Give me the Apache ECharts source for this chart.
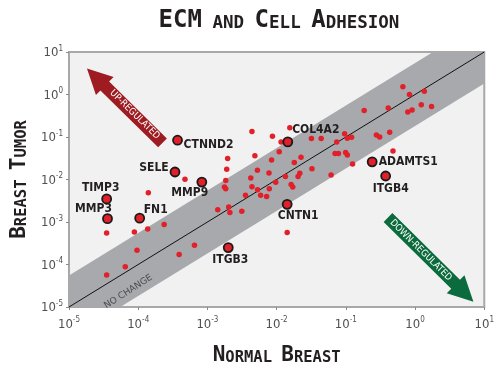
<!DOCTYPE html>
<html>
<head>
<meta charset="utf-8">
<script src="https://cdn.jsdelivr.net/npm/echarts@6/dist/echarts.min.js"></script>
<style>
  html, body { margin: 0; padding: 0; background: #fff; }
  #chart { width: 497px; height: 371px; }
</style>
</head>
<body>
<div id="chart"></div>
<script>
// named genes (ringed points)
const genes = ['CTNND2', 'SELE', 'MMP9', 'TIMP3', 'MMP3', 'FN1', 'ITGB3', 'COL4A2', 'CNTN1', 'ADAMTS1', 'ITGB4'];
const geneNormal = [3.7e-4, 3.4e-4, 8.3e-4, 3.5e-5, 3.6e-5, 1.05e-4, 2.0e-3, 0.0145, 0.0142, 0.24, 0.376];
const geneTumor = [0.084, 0.015, 0.0087, 0.0035, 0.0012, 0.00123, 2.5e-4, 0.077, 0.0026, 0.026, 0.0121];

// other genes (plain red dots)
const otherNormal = [
  4.4e-3, 0.0155, 8.7e-3, 0.0116, 0.0318, 0.044, 0.0738, 0.096, 0.105, 0.121,
  0.276, 0.308, 0.43, 0.184, 0.41, 0.667, 0.83, 1.36, 1.23, 1.73,
  0.906, 0.785, 1.96e-3, 4.85e-3, 0.0109, 8.45e-3, 0.0225, 0.018, 0.0698, 0.0782,
  0.0993, 0.105, 0.48, 0.125, 1.9e-3, 5.27e-3, 7.76e-3, 0.0134, 0.0216, 0.0204,
  0.0324, 0.0612, 1.84e-3, 4.23e-3, 9.7e-3, 1.76e-3, 1.84e-3, 4.4e-3, 5.3e-3, 0.0162,
  0.0171, 3.55e-3, 7.83e-3, 5.87e-3, 7.16e-3, 1.41e-3, 2.03e-3, 2.11e-3, 3.14e-3, 4.74e-4,
  1.4e-4, 3.5e-5, 8.8e-5, 1.37e-4, 2.37e-4, 9.6e-5, 6.5e-4, 3.9e-4, 6.5e-5, 3.5e-5,
  0.0142
];
const otherTumor = [
  0.135, 0.166, 0.104, 0.076, 0.092, 0.092, 0.076, 0.119, 0.093, 0.098,
  0.111, 0.1, 0.13, 0.42, 0.48, 1.52, 1.0, 1.19, 0.574, 0.525,
  0.433, 0.39, 0.0311, 0.0364, 0.0449, 0.0288, 0.0333, 0.0252, 0.0411, 0.0411,
  0.0433, 0.0378, 0.0466, 0.0233, 0.0175, 0.0164, 0.0142, 0.0118, 0.014, 0.0118,
  0.0178, 0.0128, 9.5e-3, 0.0108, 8.6e-3, 6.65e-3, 6.05e-3, 6.76e-3, 5.74e-3, 7.58e-3,
  6.7e-3, 4.27e-3, 6.05e-3, 4.27e-3, 3.98e-3, 1.95e-3, 2.25e-3, 1.68e-3, 1.8e-3, 0.0102,
  4.9e-3, 5.5e-4, 5.8e-4, 6.8e-4, 8.7e-4, 2.16e-4, 2.85e-4, 1.72e-4, 8.9e-5, 5.7e-5,
  5.7e-4
];

const axisMin = 1e-5;
const axisMax = 10;
const bandFold = 5.5;   // "no change" band, fold either side of the diagonal

// where each gene name sits relative to its point (px)
const labelOffsets = {
  CTNND2: [31, 5], SELE: [-21, -4], MMP9: [-12, 11], TIMP3: [-6, -11],
  MMP3: [-14, -10], FN1: [16, -8], ITGB3: [2, 12], COL4A2: [28, -12],
  CNTN1: [11, 12], ADAMTS1: [36, 0], ITGB4: [5, 13]
};

const RED = '#e2202a';
const capsFont = "'DejaVu Sans Mono', monospace";
const narrowFont = "'DejaVu Sans Condensed', 'Liberation Sans', sans-serif";

let myChart = echarts.init(document.getElementById('chart'), null, { renderer: 'canvas' });

function powLabel(v) {
  const e = Math.round(Math.log10(v));
  return '{n|10}{s|' + (e < 0 ? '-' + (-e) : e) + '}';
}
const tickRich = {
  n: { fontSize: 13, fontFamily: narrowFont, color: '#505050', verticalAlign: 'bottom', lineHeight: 15 },
  s: { fontSize: 8, fontFamily: narrowFont, color: '#505050', verticalAlign: 'top', lineHeight: 15 }
};
const nameRich = {
  a: { fontSize: 21, fontWeight: 'bold', fontFamily: capsFont, color: '#231f20', verticalAlign: 'bottom', lineHeight: 21 },
  b: { fontSize: 15.5, fontWeight: 'bold', fontFamily: capsFont, color: '#231f20', verticalAlign: 'bottom', lineHeight: 21 }
};

function arrowShape(len) {
  return [[0, -6.2], [len - 25, -6.2], [len - 25, -12.6], [len, 0], [len - 25, 12.6], [len - 25, 6.2], [0, 6.2]];
}

let option = {
  animation: false,
  grid: {
    left: 69, right: 8, top: 52, bottom: 54,
    show: true,
    backgroundColor: '#f1f1f1',
    borderColor: '#a8a8a8',
    borderWidth: 2
  },
  xAxis: {
    type: 'log', logBase: 10, min: axisMin, max: axisMax,
    name: '{a|N}{b|ORMAL }{a|B}{b|REAST}',
    nameLocation: 'middle', nameGap: 38,
    nameTextStyle: { rich: nameRich },
    axisLine: { show: false },
    axisTick: { show: true, length: 3, lineStyle: { color: '#8a8a8a' } },
    splitLine: { show: false },
    axisLabel: { formatter: powLabel, rich: tickRich, margin: 9 }
  },
  yAxis: {
    type: 'log', logBase: 10, min: axisMin, max: axisMax,
    name: '{a|B}{b|REAST }{a|T}{b|UMOR}',
    nameLocation: 'middle', nameGap: 32,
    nameTextStyle: { rich: nameRich },
    axisLine: { show: false },
    axisTick: { show: true, length: 3, lineStyle: { color: '#8a8a8a' } },
    splitLine: { show: false },
    axisLabel: { formatter: powLabel, rich: tickRich, margin: 6 }
  },
  graphic: [
    {
      type: 'text', x: 279, y: 20, z: 10,
      style: {
        text: '{a|ECM}{b| AND }{a|C}{b|ELL }{a|A}{b|DHESION}',
        rich: {
          a: { fontSize: 24, fontWeight: 'bold', fontFamily: capsFont, fill: '#231f20', verticalAlign: 'bottom', lineHeight: 25 },
          b: { fontSize: 17.5, fontWeight: 'bold', fontFamily: capsFont, fill: '#231f20', verticalAlign: 'bottom', lineHeight: 25 }
        },
        align: 'center', verticalAlign: 'middle', textAlign: 'center', textVerticalAlign: 'middle'
      }
    },
    // up-regulated arrow
    {
      type: 'polygon', x: 162.5, y: 142.8, rotation: 2.364, z: 10,
      shape: { points: arrowShape(106) },
      style: { fill: '#9e1b21' }
    },
    {
      type: 'text', x: 134.7, y: 114.6, rotation: -0.777, z: 11,
      style: {
        text: 'UP-REGULATED', fill: '#fff', fontSize: 9.5, fontFamily: narrowFont,
        align: 'center', verticalAlign: 'middle', textAlign: 'center', textVerticalAlign: 'middle'
      }
    },
    // down-regulated arrow
    {
      type: 'polygon', x: 388, y: 217.5, rotation: -0.779, z: 10,
      shape: { points: arrowShape(120) },
      style: { fill: '#0b6b3c' }
    },
    {
      type: 'text', x: 420.8, y: 250.3, rotation: -0.779, z: 11,
      style: {
        text: 'DOWN-REGULATED', fill: '#fff', fontSize: 9.5, fontFamily: narrowFont,
        align: 'center', verticalAlign: 'middle', textAlign: 'center', textVerticalAlign: 'middle'
      }
    },
    {
      type: 'text', x: 128.3, y: 291.7, rotation: 0.571, z: 11,
      style: {
        text: 'NO CHANGE', fill: '#4d4d4d', fontSize: 9, fontFamily: "'DejaVu Sans', sans-serif",
        align: 'center', verticalAlign: 'middle', textAlign: 'center', textVerticalAlign: 'middle'
      }
    }
  ],
  series: [
    {
      // gray "no change" band around the diagonal
      type: 'custom',
      z: 1,
      clip: true,
      data: [[axisMin, axisMin]],
      renderItem: function (params, api) {
        const pts = [
          [axisMin, axisMin], [axisMin, axisMin * bandFold], [axisMax / bandFold, axisMax],
          [axisMax, axisMax], [axisMax, axisMax / bandFold], [axisMin * bandFold, axisMin]
        ].map((p) => api.coord(p));
        return { type: 'polygon', shape: { points: pts }, style: { fill: '#a7a9ac' } };
      }
    },
    {
      type: 'line',
      z: 2,
      symbol: 'none',
      silent: true,
      data: [[axisMin, axisMin], [axisMax, axisMax]],
      lineStyle: { color: '#111', width: 1 }
    },
    {
      type: 'scatter',
      z: 3,
      symbolSize: 5.5,
      itemStyle: { color: RED, opacity: 1 },
      data: otherNormal.map((x, i) => [x, otherTumor[i]])
    },
    {
      type: 'scatter',
      z: 4,
      symbolSize: 9,
      itemStyle: { color: RED, borderColor: '#1a1a1a', borderWidth: 1.8, opacity: 1 },
      data: genes.map((g, i) => ({
        value: [geneNormal[i], geneTumor[i]],
        name: g,
        label: {
          show: true,
          position: 'inside',
          offset: labelOffsets[g],
          formatter: '{b}',
          color: '#231f20',
          fontSize: 12,
          fontWeight: 'bold',
          fontFamily: narrowFont,
          align: 'center',
          verticalAlign: 'middle'
        }
      }))
    }
  ]
};

myChart.setOption(option);
</script>
</body>
</html>
